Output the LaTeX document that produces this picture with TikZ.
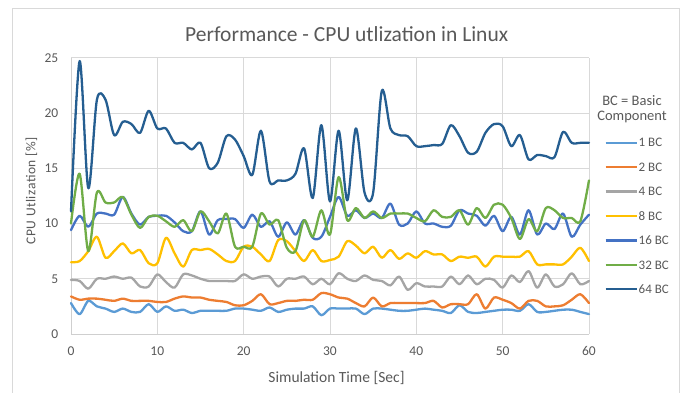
\documentclass[tikz,border=0pt]{standalone}
\usepackage{fontspec}
\setmainfont{Carlito}
\newfontfamily\ytfont{Carlito}[LetterSpace=4]
\definecolor{txtgray}{HTML}{595959}
\definecolor{gridgray}{HTML}{D9D9D9}
\definecolor{axisgray}{HTML}{CFCFCF}
\definecolor{cA}{HTML}{5B9BD5}
\definecolor{cB}{HTML}{ED7D31}
\definecolor{cC}{HTML}{A5A5A5}
\definecolor{cD}{HTML}{FFC000}
\definecolor{cE}{HTML}{4472C4}
\definecolor{cF}{HTML}{70AD47}
\definecolor{cG}{HTML}{255E91}
\tikzset{
  txt/.style={text=txtgray, inner sep=0pt},
  ticklbl/.style={txt, font=\fontsize{13.5}{16}\selectfont},
  gridline/.style={draw=gridgray, line width=0.9pt},
  axisline/.style={draw=axisgray, line width=1pt},
  series/.style={line width=2.3pt, line join=round, line cap=round},
  legline/.style={line width=2.3pt},
  leglbl/.style={txt, font=\fontsize{13}{15}\selectfont, anchor=west},
}
\newcommand\drawpts[2]{\draw[series,#2] plot[smooth,tension=0.5] coordinates {#1};}
\newcommand\plotseries[2]{%
  \gdef\seriespts{}%
  \foreach \v [count=\i from 0] in {#2}{\xdef\seriespts{\seriespts (\i,\v)}}%
  \expandafter\drawpts\expandafter{\seriespts}{#1}}
\begin{document}
\begin{tikzpicture}[x=1pt,y=-1pt]
\useasboundingbox (0,0) rectangle (682,392);
\fill[white] (0,0) rectangle (682,392);
\draw[gridgray, line width=1pt] (12,400) -- (12,8) -- (679,8) -- (679,400);
\node[txt, font=\fontsize{21.5}{26}\selectfont, anchor=base] (title) at (346.7,41.7) {Performance - CPU utlization in Linux};
\node[txt, font=\fontsize{13.5}{16}\ytfont, rotate=90, anchor=center] (ytitle) at (31.5,191) {CPU Utlization [\%]};
\node[txt, font=\fontsize{15.5}{18}\selectfont, anchor=base] (xtitle) at (336.5,382.5) {Simulation Time [Sec]};
\begin{scope}[shift={(71,334)}, x=8.633pt, y=11.05pt]
  \foreach \g in {5,10,...,25} \draw[gridline] (0,\g) -- (60,\g);
  \foreach \g in {10,20,...,60} \draw[gridline] (\g,0) -- (\g,25);
  \draw[axisline] (0,25) -- (0,0) -- (60,0);
  \foreach \g in {0,5,...,25} \node[ticklbl, anchor=base east, xshift=-12.5pt, yshift=-4.4pt] (yt\g) at (0,\g) {\g};
  \foreach \g in {0,10,...,60} \node[ticklbl, anchor=base, yshift=-21pt] (xt\g) at (\g,0) {\g};
  \plotseries{cA}{2.8,1.8,3.0,2.5,2.3,2.0,2.3,2.0,2.0,2.7,2.0,2.5,2.1,2.2,1.9,2.1,2.1,2.1,2.1,2.3,2.3,2.2,2.1,2.4,2.0,2.2,2.3,2.3,2.5,1.7,2.3,2.3,2.3,2.3,1.8,2.3,2.3,2.2,2.1,2.1,2.2,2.3,2.2,2.1,1.9,2.6,2.0,1.9,2.0,2.1,2.2,2.2,2.1,2.7,2.0,2.0,2.1,2.2,2.2,2.0,1.8}
  \plotseries{cB}{3.4,3.1,3.2,3.2,3.1,3.0,3.2,3.0,3.0,3.0,2.9,2.9,3.2,3.4,3.3,3.3,3.1,3.0,2.9,2.6,2.6,3.0,3.6,2.7,2.8,3.0,3.0,3.1,3.1,3.7,3.6,3.3,3.2,2.8,2.5,3.3,2.5,2.8,2.8,2.8,2.8,2.8,3.0,2.4,2.7,2.7,2.7,3.6,2.3,3.3,3.1,2.8,2.3,3.0,3.0,2.5,2.5,2.6,3.1,3.6,2.8}
  \plotseries{cC}{4.9,4.8,4.1,5.0,5.0,5.2,5.0,5.1,4.3,4.3,5.4,4.7,4.2,5.4,5.3,5.0,4.8,4.8,4.8,4.8,5.4,5.0,5.2,5.2,4.3,5.0,5.0,5.2,4.5,5.0,4.5,5.5,5.0,4.8,5.3,4.9,4.8,4.4,5.2,4.0,4.6,4.3,4.3,4.3,5.2,4.5,5.3,4.5,5.0,4.9,4.2,5.3,4.7,5.7,4.2,5.4,4.3,4.5,5.5,4.5,4.8}
  \plotseries{cD}{6.5,6.6,7.5,8.8,6.9,7.5,8.2,7.3,7.6,6.4,6.4,8.7,7.3,6.1,7.6,7.6,7.7,7.2,6.6,6.6,7.9,7.9,7.2,6.6,8.5,8.4,7.5,6.6,7.6,6.6,6.7,7.0,8.4,8.0,7.3,7.9,6.9,7.6,6.8,7.3,6.9,7.5,7.2,7.2,6.6,7.0,6.9,7.0,6.1,7.0,7.0,7.0,7.0,7.5,6.3,6.3,6.3,6.3,7.0,7.8,6.6}
  \plotseries{cE}{9.4,10.7,9.7,10.9,10.9,10.8,12.4,10.9,9.9,10.6,10.7,10.7,10.1,9.3,9.3,11.1,9.0,10.3,10.4,10.4,9.6,10.8,9.7,10.2,8.8,10.1,9.0,10.3,8.7,8.8,10.6,12.4,10.7,11.2,10.5,10.9,10.5,11.8,9.9,10.0,11.1,10.0,10.0,9.7,9.8,11.2,10.9,10.7,9.8,10.7,9.3,10.6,9.0,11.2,9.0,10.0,9.5,10.9,8.8,9.9,10.8}
  \plotseries{cF}{10.0,14.5,7.5,12.8,11.9,11.9,12.4,10.8,9.6,10.6,10.7,10.2,9.7,10.3,9.3,11.1,10.2,9.1,10.9,7.9,7.9,7.9,10.9,9.9,10.3,7.8,7.5,10.3,8.8,11.2,9.0,14.2,10.3,11.4,10.5,11.1,10.5,10.9,10.9,10.9,10.5,10.2,11.2,10.6,10.6,11.2,9.9,11.4,10.5,11.7,11.7,10.5,8.6,10.4,9.3,11.4,11.2,10.5,10.5,10.2,13.9}
  \plotseries{cG}{11.1,24.7,13.2,21.2,21.2,18.0,19.2,19.0,18.2,20.2,18.6,18.6,17.3,17.3,16.7,17.3,15.0,15.5,17.9,17.6,16.1,14.4,18.4,13.8,13.9,13.9,14.5,16.8,12.3,18.9,12.0,18.4,12.1,18.6,12.8,12.8,22.0,18.6,18.0,17.9,17.0,17.0,17.1,17.2,18.9,17.9,16.4,16.5,18.2,19.0,18.8,17.0,18.0,15.8,16.2,16.1,16.0,18.3,17.3,17.3,17.3}
\end{scope}
\node[txt, font=\fontsize{14.5}{14}\selectfont, anchor=base] (legtitleA) at (632,105) {BC = Basic};
\node[txt, font=\fontsize{14.5}{14}\selectfont, anchor=base] (legtitleB) at (632,120) {Component};
\foreach \c/\l [count=\k from 0] in {cA/1 BC,cB/2 BC,cC/4 BC,cD/8 BC,cE/16 BC,cF/32 BC,cG/64 BC}{
  \coordinate (ls\k) at (605.5,142.7+24.43*\k);
  \coordinate (le\k) at (637,142.7+24.43*\k);
  \draw[legline,\c] (ls\k) -- (le\k);
  \node[leglbl] (ll\k) at (638.5,142.7+24.43*\k) {\l};
}
\end{tikzpicture}
\end{document}
